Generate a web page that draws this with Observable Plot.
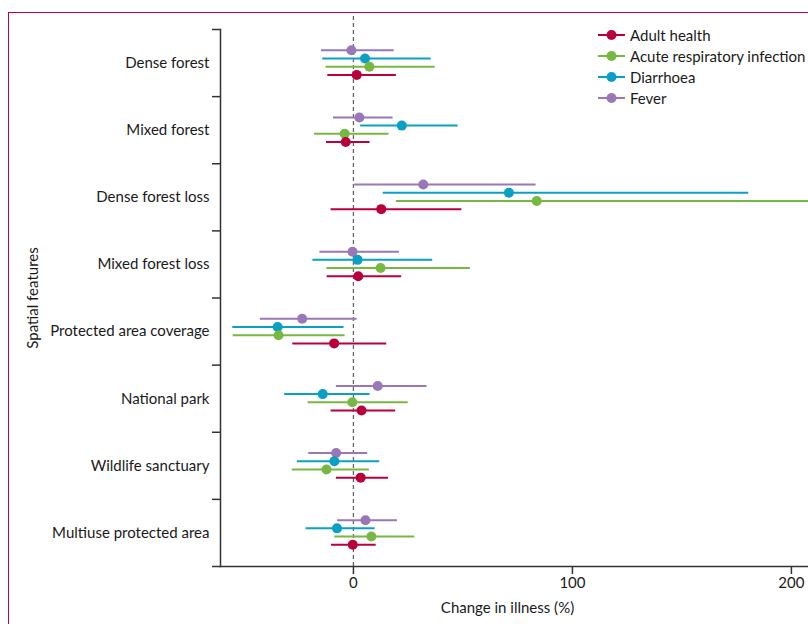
<!DOCTYPE html>
<html>
<head>
<meta charset="utf-8">
<script src="https://cdn.jsdelivr.net/npm/d3@7"></script>
<script src="https://cdn.jsdelivr.net/npm/@observablehq/plot@0.6"></script>
<style>
  html, body { margin: 0; padding: 0; background: #fff; }
  #wrap { position: relative; width: 808px; height: 624px; overflow: hidden; font-family: Lato, "Noto Sans", sans-serif; }
  #frame { position: absolute; left: 8px; top: 12px; width: 900px; height: 700px;
           border-left: 1.5px solid #c3003b; border-top: 1.5px solid #c3003b; pointer-events: none; }
  #chart { position: absolute; left: 0; top: 0; }
  #legend { position: absolute; left: 597px; top: 24px; font-size: 15px; color: #1a1a1a; }
  .item { display: flex; align-items: center; height: 21px; white-space: nowrap; }
  .item svg { margin-right: 4px; }
</style>
</head>
<body>
<div id="wrap">
  <div id="chart"></div>
  <div id="frame"></div>
  <div id="legend"></div>
</div>
<script>
// ---- Data ----
const categories = [
  "Dense forest", "Mixed forest", "Dense forest loss", "Mixed forest loss",
  "Protected area coverage", "National park", "Wildlife sanctuary", "Multiuse protected area"
];
const seriesNames = ["Adult health", "Acute respiratory infection", "Diarrhoea", "Fever"];
const seriesColors = ["#b8003d", "#77b843", "#0aa0c4", "#9a77b6"];

const adultEst = [1.5, -3.5, 12.7, 2.2, -8.8, 3.7, 3.3, -0.3];
const adultLo  = [-11.7, -12.3, -10.2, -12.0, -27.7, -10.2, -7.8, -10.0];
const adultHi  = [19.6, 7.6, 49.5, 22.0, 15.2, 19.3, 16.0, 10.4];

const ariEst = [7.3, -4.0, 83.7, 12.4, -34.2, -0.5, -12.3, 8.2];
const ariLo  = [-12.5, -17.8, 19.6, -12.1, -54.9, -20.7, -27.9, -8.5];
const ariHi  = [37.3, 16.3, 225, 53.4, -3.8, 25.0, 7.3, 28.0];

const diaEst = [5.3, 22.1, 71.0, 1.9, -34.6, -14.0, -8.7, -7.5];
const diaLo  = [-14.0, 3.3, 13.6, -18.5, -55.1, -31.4, -25.6, -21.6];
const diaHi  = [35.5, 47.8, 180.5, 36.2, -4.3, 7.6, 12.0, 9.9];

const feverEst = [-0.9, 2.7, 31.9, -0.4, -23.4, 11.1, -7.9, 5.5];
const feverLo  = [-14.6, -9.1, 0.6, -15.3, -42.5, -7.8, -20.4, -7.2];
const feverHi  = [18.6, 18.1, 83.4, 21.0, 1.7, 33.6, 6.5, 20.1];

const xTicks = [0, 100, 200];

// ---- Layout helpers ----
const rowOffset = { "Fever": -0.19, "Diarrhoea": -0.068, "Acute respiratory infection": 0.054, "Adult health": 0.176 };
const seriesData = [
  [adultEst, adultLo, adultHi],
  [ariEst, ariLo, ariHi],
  [diaEst, diaLo, diaHi],
  [feverEst, feverLo, feverHi]
];
const rows = [];
seriesNames.forEach((s, si) => {
  categories.forEach((c, ci) => {
    rows.push({
      series: s, category: c,
      pos: ci + 0.5 + rowOffset[s],
      est: seriesData[si][0][ci], lo: seriesData[si][1][ci], hi: seriesData[si][2][ci]
    });
  });
});
const drawRows = rows.slice().reverse();

const axisColor = "#333";
const chart = Plot.plot({
  width: 808, height: 624,
  marginLeft: 220, marginRight: 0, marginTop: 29, marginBottom: 58,
  style: { fontFamily: "Lato, 'Noto Sans', sans-serif", fontSize: "15px", color: "#1a1a1a", background: "transparent", overflow: "visible" },
  x: { domain: [-60.7, 207.8] },
  y: { domain: [8, 0] },
  color: { domain: seriesNames, range: seriesColors },
  marks: [
    Plot.ruleX([0], { y1: 8, y2: -0.25, stroke: "#666", strokeWidth: 1.3, strokeDasharray: "4,3" }),
    Plot.ruleY(drawRows, { y: "pos", x1: "lo", x2: "hi", stroke: "series", strokeWidth: 2, clip: true }),
    Plot.dot(drawRows, { x: "est", y: "pos", fill: "series", r: 5 }),
    Plot.frame({ anchor: "left", stroke: axisColor, strokeWidth: 1.5 }),
    Plot.frame({ anchor: "bottom", stroke: axisColor, strokeWidth: 1.5 }),
    Plot.axisY({ ticks: d3.range(0, 9), tickSize: 8, tickFormat: () => "", label: null, stroke: axisColor, strokeWidth: 1.5 }),
    Plot.axisY({
      ticks: d3.range(8).map(i => i + 0.5), tickSize: 0, tickPadding: 11,
      tickFormat: v => categories[Math.floor(v)], fontSize: 15, fill: "#1a1a1a",
      label: "Spatial features", labelAnchor: "center", labelOffset: 193, labelArrow: "none"
    }),
    Plot.axisX({ ticks: xTicks, tickSize: 8, tickPadding: 3, label: null, stroke: axisColor, strokeWidth: 1.5, fontSize: 15, fill: "#1a1a1a" }),
    Plot.text(["Change in illness (%)"], { frameAnchor: "bottom", dy: 46, dx: -7, fontSize: 15, fill: "#1a1a1a" })
  ]
});
document.getElementById("chart").appendChild(chart);

// ---- Legend ----
const legend = document.getElementById("legend");
seriesNames.forEach((s, i) => {
  const item = document.createElement("div");
  item.className = "item";
  item.innerHTML = `<svg width="29" height="12"><line x1="1" x2="28" y1="6" y2="6" stroke="${seriesColors[i]}" stroke-width="2"/><circle cx="14.5" cy="6" r="5" fill="${seriesColors[i]}"/></svg><span>${s}</span>`;
  legend.appendChild(item);
});
</script>
</body>
</html>
